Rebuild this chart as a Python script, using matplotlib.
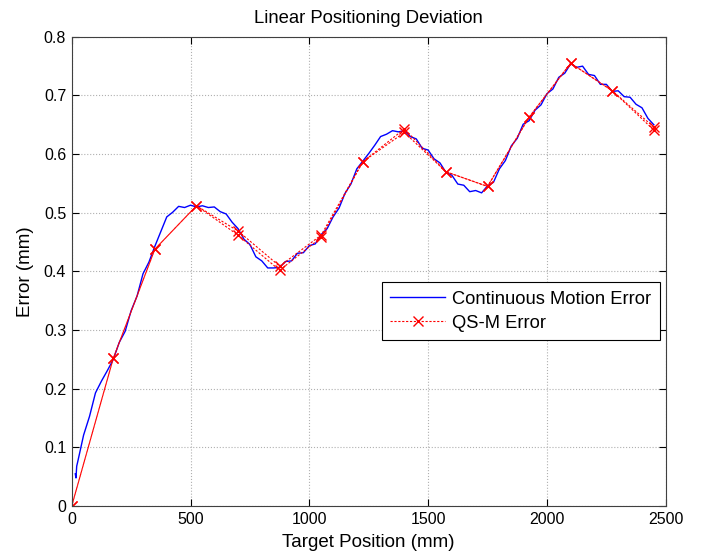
import numpy as np
import matplotlib.pyplot as plt

plt.rcParams['font.family'] = ['Liberation Sans', 'DejaVu Sans']

cont_start_x = [15, 18, 21]
cont_start_y = [0.055, 0.048, 0.068]
cont_x = np.arange(25, 2451, 25)
cont_y = [0.075, 0.121, 0.153, 0.193, 0.213, 0.231, 0.250, 0.279, 0.298, 0.333,
          0.358, 0.396, 0.416, 0.443, 0.468, 0.493, 0.501, 0.511, 0.509, 0.513,
          0.510, 0.512, 0.509, 0.510, 0.502, 0.498, 0.484, 0.473, 0.455, 0.446,
          0.425, 0.418, 0.406, 0.406, 0.407, 0.417, 0.418, 0.431, 0.432, 0.444,
          0.447, 0.463, 0.473, 0.493, 0.508, 0.533, 0.549, 0.575, 0.588, 0.601,
          0.615, 0.630, 0.634, 0.640, 0.638, 0.640, 0.630, 0.626, 0.610, 0.607,
          0.592, 0.585, 0.569, 0.564, 0.549, 0.547, 0.536, 0.538, 0.534, 0.546,
          0.552, 0.575, 0.589, 0.614, 0.627, 0.651, 0.657, 0.675, 0.684, 0.703,
          0.711, 0.731, 0.738, 0.754, 0.748, 0.750, 0.736, 0.734, 0.719, 0.719,
          0.707, 0.708, 0.698, 0.697, 0.685, 0.679, 0.661, 0.650]

# QS-M error, measured at target positions (two runs)
qs_x = [0, 175, 350, 525, 700, 875, 1050, 1225, 1400, 1575, 1750, 1925, 2100, 2275, 2450]
qs_run1 = [0, 0.252, 0.438, 0.512, 0.462, 0.402, 0.458, 0.587, 0.637, 0.570, 0.545, 0.663, 0.755, 0.708, 0.641]
qs_run2 = [0, 0.252, 0.438, 0.512, 0.469, 0.409, 0.462, 0.587, 0.643, 0.570, 0.545, 0.663, 0.755, 0.708, 0.646]

fig = plt.figure(figsize=(7.03, 5.58), dpi=100)
ax = fig.add_axes([0.102, 0.093, 0.845, 0.841])

ax.plot(list(cont_start_x) + list(cont_x), cont_start_y + cont_y, color='#0000ff', lw=1.0,
        label='Continuous Motion Error')
ax.plot(qs_x, qs_run1, color='red', lw=0.8, ls=(0, (2, 1.5)), marker='x', ms=7, mew=1.0,
        label='QS-M Error')
ax.plot(qs_x, qs_run2, color='red', lw=0.8, ls=(1.75, (2, 1.5)), marker='x', ms=7, mew=1.0)

ax.set_xlim(0, 2500)
ax.set_ylim(0, 0.8)
ax.set_xticks([0, 500, 1000, 1500, 2000, 2500])
ax.set_yticks(np.arange(0, 0.81, 0.1))
ax.set_yticklabels(['0', '0.1', '0.2', '0.3', '0.4', '0.5', '0.6', '0.7', '0.8'])
ax.grid(True, color='#b0b0b0', ls=':', lw=0.8)
ax.tick_params(direction='in', top=True, right=True, labelsize=11.5, length=5, pad=4)
for s in ax.spines.values():
    s.set_color('#404040')

ax.set_title('Linear Positioning Deviation', fontsize=13.3, pad=10)
ax.set_xlabel('Target Position (mm)', fontsize=13.5, labelpad=5)
ax.set_ylabel('Error (mm)', fontsize=13.5, labelpad=7)

leg = ax.legend(loc='upper left', bbox_to_anchor=(0.522, 0.477), fontsize=13.2, fancybox=False,
                framealpha=1, edgecolor='black', borderpad=0.45, handlelength=3.0,
                handletextpad=0.4, labelspacing=0.4, borderaxespad=0)
leg.get_frame().set_linewidth(0.8)

fig.savefig('out.png', dpi=100)
